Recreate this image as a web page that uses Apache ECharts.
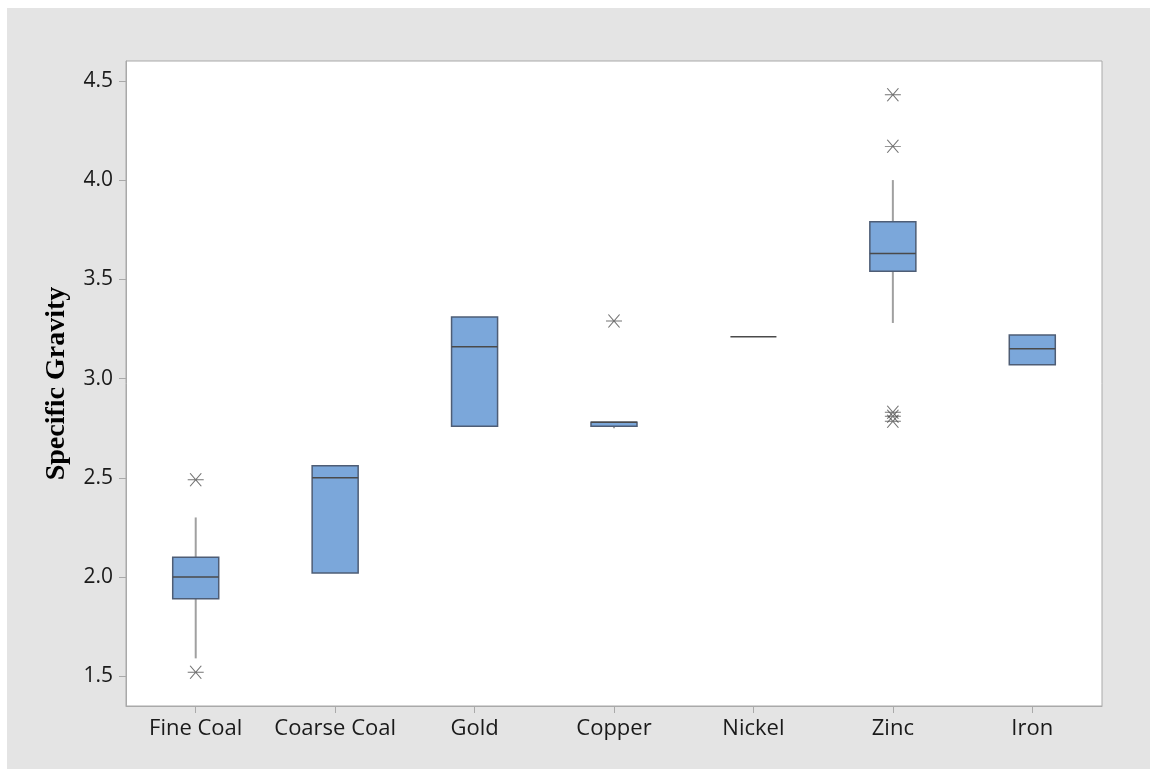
<!DOCTYPE html>
<html>
<head>
<meta charset="utf-8">
<script src="https://cdn.jsdelivr.net/npm/echarts@6/dist/echarts.min.js"></script>
<style>
  html, body { margin: 0; padding: 0; background: #ffffff; }
  #wrap { position: relative; width: 1150px; height: 769px; overflow: hidden; }
  #panel { position: absolute; left: 7px; top: 8px; right: 0; bottom: 0; background: #e4e4e4; }
  #chart { position: absolute; left: 0; top: 0; width: 1150px; height: 769px; }
</style>
</head>
<body>
<div id="wrap">
  <div id="panel"></div>
  <div id="chart"></div>
</div>
<script>
// Mineral types on the category axis
const categories = ['Fine Coal', 'Coarse Coal', 'Gold', 'Copper', 'Nickel', 'Zinc', 'Iron'];

// Box summaries per mineral: [lower whisker, Q1, median, Q3, upper whisker]
const lowerWhisker = [1.59, 2.02, 2.76, 2.75, 3.21, 3.28, 3.07];
const quartile1    = [1.89, 2.02, 2.76, 2.76, 3.21, 3.54, 3.07];
const medians      = [2.00, 2.50, 3.16, 2.78, 3.21, 3.63, 3.15];
const quartile3    = [2.10, 2.56, 3.31, 2.78, 3.21, 3.79, 3.22];
const upperWhisker = [2.30, 2.56, 3.31, 2.78, 3.21, 4.00, 3.22];

// Outlying observations: [category index, value]
const outliers = [
  [0, 2.49], [0, 1.52],
  [3, 3.29],
  [5, 4.43], [5, 4.17], [5, 2.83], [5, 2.81], [5, 2.785]
];

// Y axis tick labels
const yTicks = [1.5, 2.0, 2.5, 3.0, 3.5, 4.0, 4.5];

const boxData = categories.map((c, i) => [i, lowerWhisker[i], quartile1[i], medians[i], quartile3[i], upperWhisker[i]]);

const chart = echarts.init(document.getElementById('chart'), null, { renderer: 'canvas' });

const labelFont = '"Open Sans", "Noto Sans", sans-serif';

chart.setOption({
  backgroundColor: 'transparent',
  animation: false,
  grid: {
    left: 126, right: 48, top: 61, bottom: 63,
    show: true, backgroundColor: '#ffffff', borderColor: '#a9a9a9', borderWidth: 1
  },
  xAxis: {
    type: 'category',
    data: categories,
    boundaryGap: true,
    axisLine: { show: true, lineStyle: { color: '#a9a9a9', width: 1 } },
    axisTick: { show: true, alignWithLabel: true, interval: 0, length: 7, lineStyle: { color: '#a9a9a9' } },
    axisLabel: { color: '#1a1a1a', fontSize: 22, fontFamily: labelFont, margin: 12, interval: 0 },
    splitLine: { show: false }
  },
  yAxis: {
    type: 'value',
    min: 1.35,
    max: 4.6,
    name: 'Specific Gravity',
    nameLocation: 'middle',
    nameRotate: 90,
    nameGap: 55,
    nameTextStyle: { fontFamily: '"Liberation Serif", "Times New Roman", serif', fontWeight: 'bold', fontSize: 28, color: '#000000' },
    axisLine: { show: true, lineStyle: { color: '#a9a9a9', width: 1 } },
    axisTick: { show: true, length: 7, customValues: yTicks, lineStyle: { color: '#a9a9a9' } },
    axisLabel: {
      color: '#1a1a1a', fontSize: 21, fontFamily: labelFont, margin: 13,
      customValues: yTicks,
      formatter: v => v.toFixed(1)
    },
    splitLine: { show: false }
  },
  series: [
    {
      type: 'custom',
      name: 'boxes',
      data: boxData,
      encode: { x: 0, y: [1, 2, 3, 4, 5] },
      renderItem: function (params, api) {
        const idx = api.value(0);
        const band = api.size([1, 0])[0];
        const half = band * 0.165;
        const pLow = api.coord([idx, api.value(1)]);
        const pQ1 = api.coord([idx, api.value(2)]);
        const pMed = api.coord([idx, api.value(3)]);
        const pQ3 = api.coord([idx, api.value(4)]);
        const pHigh = api.coord([idx, api.value(5)]);
        const cx = pMed[0];
        const children = [];
        // whiskers
        if (pLow[1] - pQ1[1] > 0.5) {
          children.push({ type: 'line', shape: { x1: cx, y1: pQ1[1], x2: cx, y2: pLow[1] },
            style: { stroke: '#a0a0a0', lineWidth: 2 } });
        }
        if (pQ3[1] - pHigh[1] > 0.5) {
          children.push({ type: 'line', shape: { x1: cx, y1: pHigh[1], x2: cx, y2: pQ3[1] },
            style: { stroke: '#a0a0a0', lineWidth: 2 } });
        }
        // box
        const h = pQ1[1] - pQ3[1];
        if (h > 0.5) {
          children.push({ type: 'rect', shape: { x: cx - half, y: pQ3[1], width: half * 2, height: h },
            style: { fill: '#7ba7da', stroke: '#4e5d75', lineWidth: 1.5 } });
        }
        // median
        children.push({ type: 'line', shape: { x1: cx - half, y1: pMed[1], x2: cx + half, y2: pMed[1] },
          style: { stroke: '#4a4a4a', lineWidth: 1.5 } });
        return { type: 'group', children: children };
      },
      z: 2
    },
    {
      type: 'scatter',
      name: 'outliers',
      data: outliers,
      symbol: 'path://M0,50 L100,50 M15,0 L85,100 M85,0 L15,100',
      symbolSize: [16, 13],
      itemStyle: { color: 'transparent', borderColor: '#505050', borderWidth: 1 },
      z: 3
    }
  ]
});
</script>
</body>
</html>
